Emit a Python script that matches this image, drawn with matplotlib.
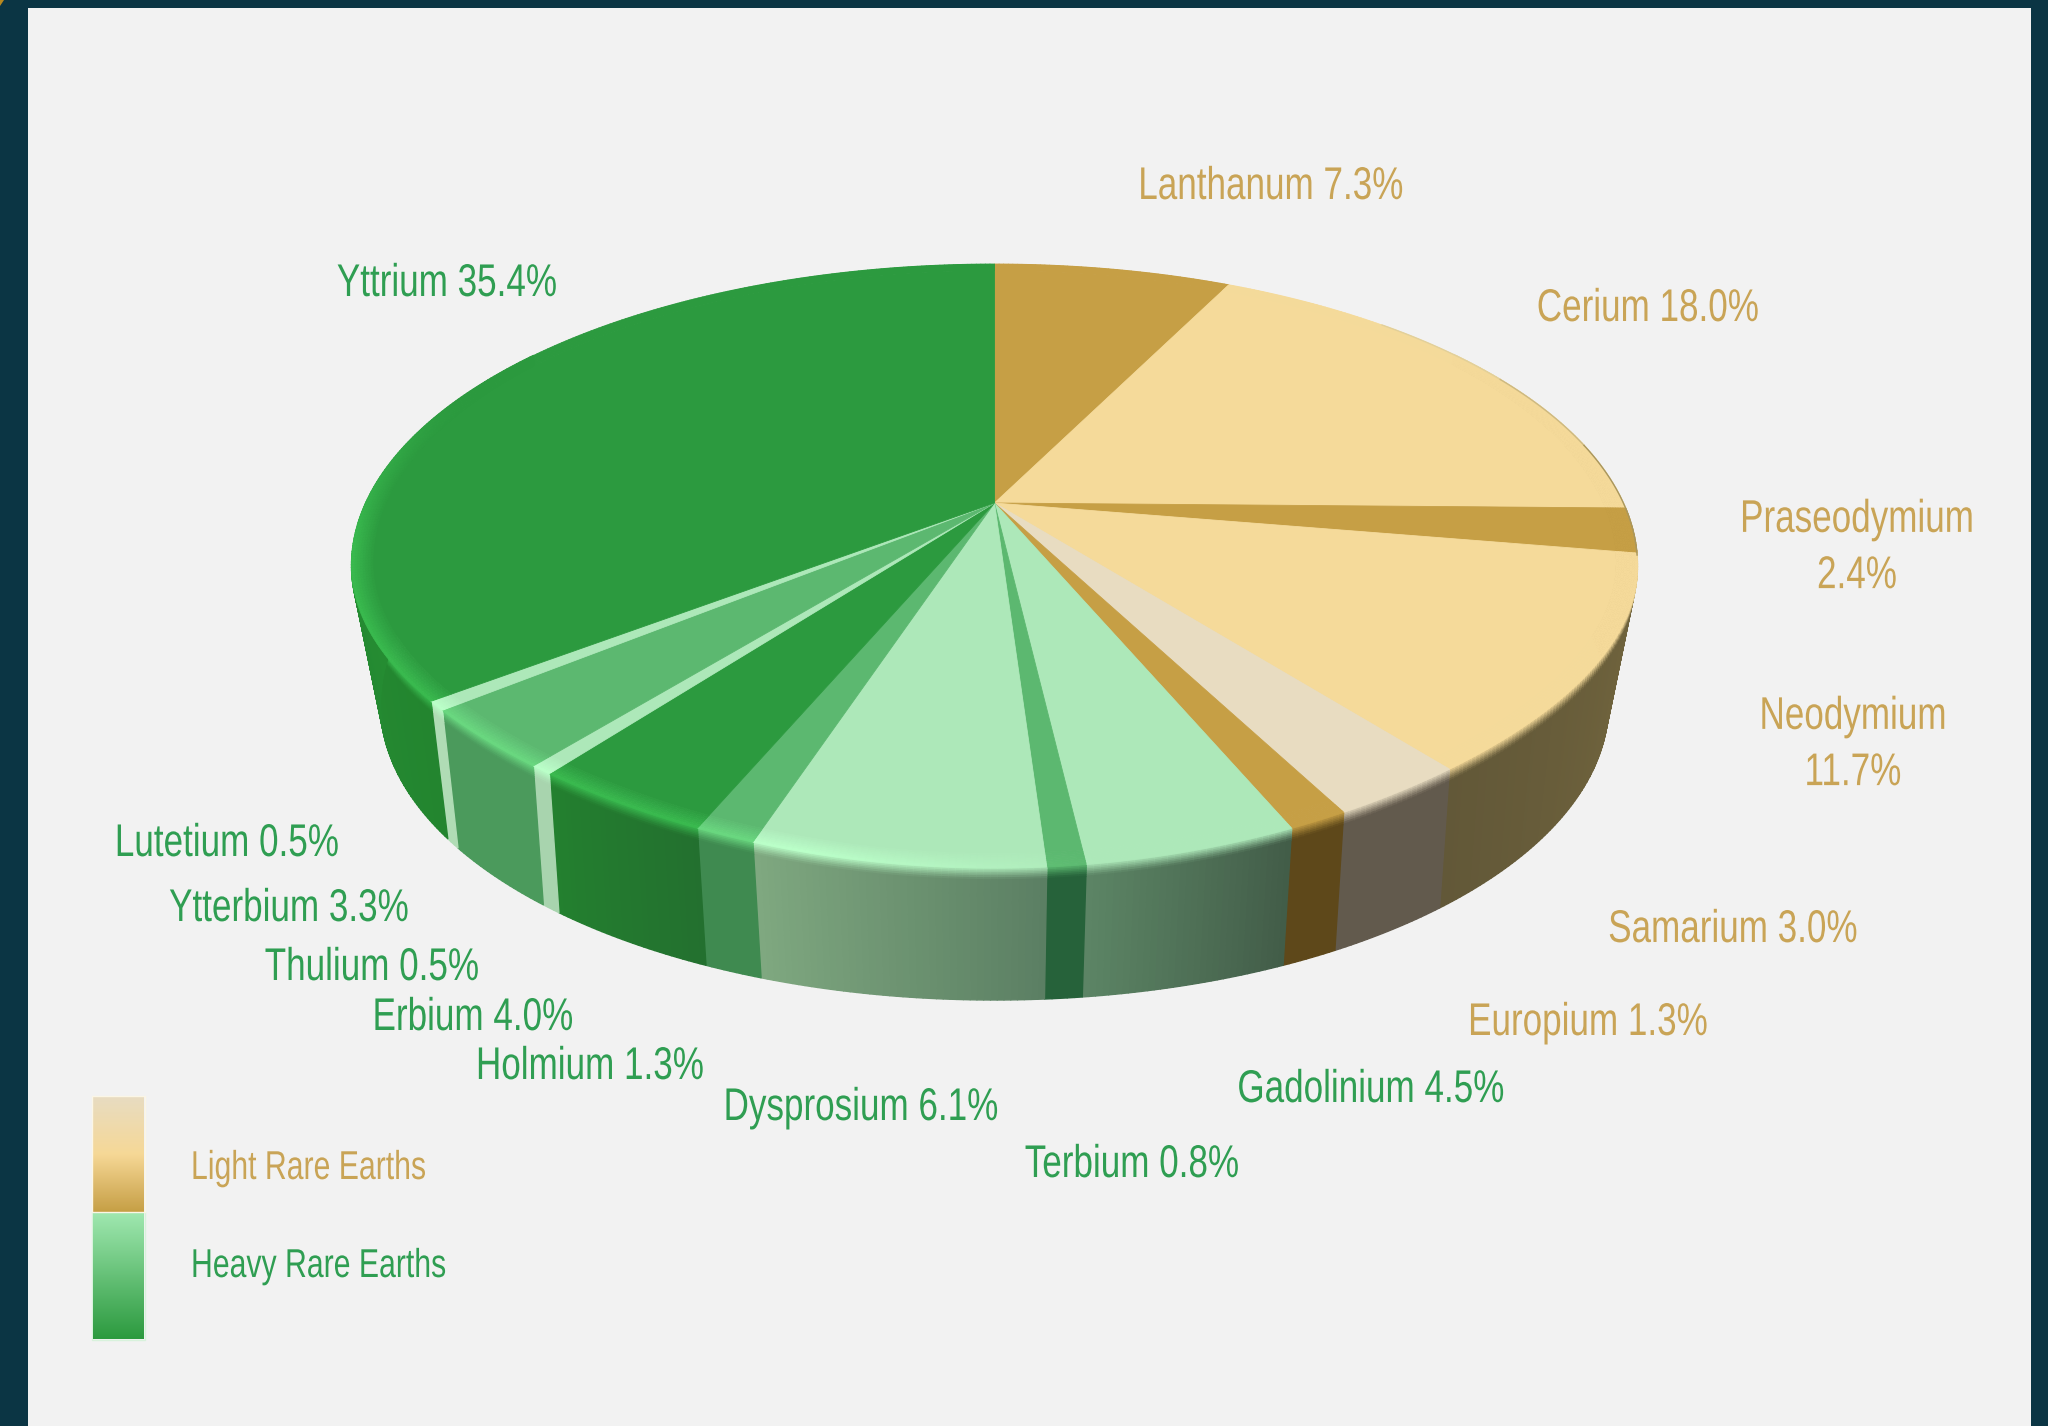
import numpy as np
import matplotlib
matplotlib.use("Agg")
import matplotlib.pyplot as plt
from matplotlib.collections import PolyCollection
from matplotlib.colors import to_rgb, LinearSegmentedColormap
from matplotlib.patches import Polygon, Rectangle
from matplotlib.patheffects import AbstractPathEffect
from matplotlib.transforms import Affine2D

# Rare earth shares, clockwise from twelve o'clock
elements = ["Lanthanum", "Cerium", "Praseodymium", "Neodymium", "Samarium",
            "Europium", "Gadolinium", "Terbium", "Dysprosium", "Holmium",
            "Erbium", "Thulium", "Ytterbium", "Lutetium", "Yttrium"]
shares = [7.3, 18.0, 2.4, 11.7, 3.0, 1.3, 4.5, 0.8, 6.1, 1.3, 4.0, 0.5, 3.3, 0.5, 35.4]
light_group = ["Lanthanum", "Cerium", "Praseodymium", "Neodymium", "Samarium", "Europium"]
line_break = ["Praseodymium", "Neodymium"]

# Colours of the top face and of the side wall (right end, left end)
GOLD, SAND, CREAM = "#c69f45", "#f5da9a", "#e8dcc1"
MINT, MID, DEEP = "#ade8b9", "#5cb870", "#2c9a3f"
top_colors = [GOLD, SAND, GOLD, SAND, CREAM, GOLD, MINT, MID, MINT, MID, DEEP, MINT, MID, MINT, DEEP]
wall_colors = [("#7a6a40", "#7a6a40"), ("#7a6a40", "#7a6a40"), ("#7a6030", "#7a6030"),
               ("#73663e", "#625838"), ("#625a4d", "#625a4d"), ("#5e481a", "#5e481a"),
               ("#425c48", "#5c8565"), ("#26623a", "#26623a"), ("#5b7f63", "#7fa880"),
               ("#3f8a50", "#3f8a50"), ("#23702f", "#23802f"), ("#a8d4ae", "#a8d4ae"),
               ("#4b9a5c", "#4b9a5c"), ("#b0dcb5", "#b0dcb5"), ("#23852f", "#2aa03c")]

# Label centres in figure pixels
label_xy = {"Lanthanum": (1271, 184), "Cerium": (1648, 306), "Praseodymium": (1857, 545),
            "Neodymium": (1853, 742), "Samarium": (1733, 927), "Europium": (1588, 1020),
            "Gadolinium": (1371, 1087), "Terbium": (1132, 1162), "Dysprosium": (861, 1105),
            "Holmium": (590, 1064), "Erbium": (473, 1015), "Thulium": (372, 965),
            "Ytterbium": (289, 906), "Lutetium": (227, 841), "Yttrium": (447, 281)}

TEXT_GOLD, TEXT_GREEN = "#c9a456", "#2f9e52"
FONT = ["Liberation Sans", "DejaVu Sans"]

# Perspective disc: the rim is an ellipse, the hub sits above its centre
CX, TOP_CY, TOP_A, TOP_B = 994.5, 566.0, 643.0, 302.0
BOT_CY, BOT_A, BOT_B = 704.0, 614.0, 296.0
K = (TOP_CY - 503.0) / TOP_B
FRONT_PINCH = 0.024


class Condensed(AbstractPathEffect):
    """Squeeze glyph outlines horizontally about a fixed pixel column."""

    def __init__(self, pivot_x, factor):
        super().__init__()
        self.pivot_x, self.factor = pivot_x, factor

    def draw_path(self, renderer, gc, tpath, affine, rgbFace=None):
        squeeze = Affine2D().translate(-self.pivot_x, 0).scale(self.factor, 1).translate(self.pivot_x, 0)
        renderer.draw_path(gc, tpath, affine + squeeze, rgbFace)


def disc(theta_deg, r=1.0):
    """Project a point of the unit disc into normalised ellipse coordinates."""
    t = np.radians(theta_deg)
    u, v = r * np.sin(t), r * np.cos(t)
    den = 1 + K * v
    return u * np.sqrt(1 - K ** 2) / den, (v + K) / den


def top_pt(theta_deg, r=1.0):
    X, Y = disc(theta_deg, r)
    # The near half of the rim runs a little inside a true ellipse on its diagonals
    phi = np.arctan2(Y, X)
    pinch = 1 - FRONT_PINCH * np.sin(2 * phi) ** 2 * (Y < 0)
    return np.column_stack([CX + TOP_A * X * pinch, TOP_CY - TOP_B * Y * pinch])


def wall_pt(theta_deg, f):
    X, Y = disc(theta_deg)
    top = top_pt(theta_deg)
    bot = np.column_stack([CX + BOT_A * X, BOT_CY - BOT_B * Y])
    return top + (bot - top) * f


def mix(a, b, f):
    return tuple(np.asarray(a) * (1 - f) + np.asarray(b) * f)


def glow(theta):
    """Strength of the rim highlight, which sits on the lower left of the disc."""
    return float(np.clip((theta - 172) / 22, 0, 1) * np.clip((292 - theta) / 30, 0, 1))


def bright(c):
    return tuple(np.clip(np.asarray(c) + np.array([0.05, 0.12, 0.06]), 0, 1))


fig = plt.figure(figsize=(20.48, 14.26), dpi=100, facecolor="#0b3544")
ax = fig.add_axes([0, 0, 1, 1])
ax.set_xlim(0, 2048)
ax.set_ylim(1426, 0)
ax.axis("off")

ax.add_patch(Rectangle((28, 8), 2003, 1418, facecolor="#f2f2f2", edgecolor="none", zorder=0))
ax.add_patch(Polygon([(0, 0), (4, 0), (0, 6)], facecolor="#b8891f", edgecolor="none", zorder=1))

edges = 360 * np.concatenate([[0], np.cumsum(shares)]) / np.sum(shares)
wall_polys, wall_cols, face_polys, face_cols = [], [], [], []
wall_steps = [0, 0.012, 0.024, 0.036, 0.048, 0.06, 0.075, 0.09, 1.0]
rim_steps = np.linspace(0.968, 1.0, 9)

for i, (start, end) in enumerate(zip(edges[:-1], edges[1:])):
    top_c = to_rgb(top_colors[i])
    c_right, c_left = to_rgb(wall_colors[i][0]), to_rgb(wall_colors[i][1])

    # Flat part of the top face, from the hub out to the rim band
    n = max(3, int((end - start) / 0.5) + 1)
    th = np.linspace(start, end, n)
    arc = top_pt(th, rim_steps[0])
    hub = top_pt(np.array([0.0]), 0.0)
    face_polys.append(np.vstack([hub, arc]))
    face_cols.append(top_c)

    for a, b in zip(th[:-1], th[1:]):
        mid = 0.5 * (a + b)
        g = glow(mid)
        rim_c = mix(top_c, bright(top_c), g)
        wall_c = mix(c_right, c_left, (mid - start) / max(end - start, 1e-6))
        pair = np.array([a, b])

        # Rim band of the top face, brightening towards the edge
        for j, (r0, r1) in enumerate(zip(rim_steps[:-1], rim_steps[1:])):
            q = np.vstack([top_pt(pair, r0), top_pt(pair[::-1], r1)])
            face_polys.append(q)
            face_cols.append(mix(top_c, rim_c, (j + 1) / (len(rim_steps) - 1)))

        # Side wall, with a soft shoulder just below the rim
        if 55 < mid < 305:
            for j, (f0, f1) in enumerate(zip(wall_steps[:-1], wall_steps[1:])):
                q = np.vstack([wall_pt(pair, f0), wall_pt(pair[::-1], f1)])
                wall_polys.append(q)
                wall_cols.append(mix(rim_c, wall_c, min(1.0, (j + 0.5) / (len(wall_steps) - 2))))

ax.add_collection(PolyCollection(wall_polys, facecolors=wall_cols, edgecolors="face",
                                 linewidths=1.0, zorder=2))
ax.add_collection(PolyCollection(face_polys, facecolors=face_cols, edgecolors="face",
                                 linewidths=0.6, zorder=3))

# Fine edge along the far right of the rim, darkening towards the side
for arc_from, arc_to, shade in [(45, 62, "#e2d09a"), (62, 78, "#cdb981"), (78, 100, "#a8965e")]:
    edge_arc = top_pt(np.linspace(arc_from, arc_to, 40))
    ax.plot(edge_arc[:, 0], edge_arc[:, 1], color=shade, lw=1.0, zorder=4)

# Slice labels
for name, share in zip(elements, shares):
    sep = "\n" if name in line_break else " "
    color = TEXT_GOLD if name in light_group else TEXT_GREEN
    x, y = label_xy[name]
    ax.text(x, y + 3, f"{name}{sep}{share:.1f}%", color=color, family=FONT, fontsize=33,
            ha="center", va="center", linespacing=1.36, zorder=5,
            path_effects=[Condensed(x, 0.765)])

# Colour key with its two vertical ramps
light_ramp = LinearSegmentedColormap.from_list("light", [CREAM, "#f6d896", GOLD])
heavy_ramp = LinearSegmentedColormap.from_list("heavy", ["#a0e8b0", DEEP])
ramp = np.linspace(0, 1, 128)[:, None]
ax.imshow(ramp, cmap=light_ramp, extent=(93, 144, 1212, 1097), aspect="auto", zorder=4)
ax.imshow(ramp, cmap=heavy_ramp, extent=(93, 144, 1339, 1212), aspect="auto", zorder=4)
ax.add_patch(Rectangle((92, 1096), 53, 116, facecolor="none", edgecolor="#fbf6e6", lw=1.0, zorder=4))
ax.add_patch(Rectangle((92, 1212), 53, 128, facecolor="none", edgecolor="#d8f2dc", lw=1.0, zorder=3.5))
ax.set_xlim(0, 2048)
ax.set_ylim(1426, 0)
ax.text(191, 1168, "Light Rare Earths", color=TEXT_GOLD, family=FONT, fontsize=29,
        ha="left", va="center", zorder=5, path_effects=[Condensed(191, 0.75)])
ax.text(191, 1266, "Heavy Rare Earths", color=TEXT_GREEN, family=FONT, fontsize=29,
        ha="left", va="center", zorder=5, path_effects=[Condensed(191, 0.75)])

fig.savefig("out.png", dpi=100, facecolor=fig.get_facecolor())
